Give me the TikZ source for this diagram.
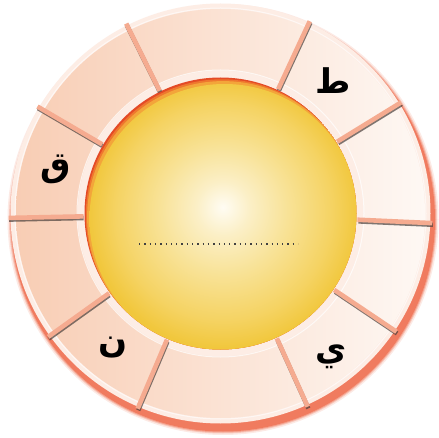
\documentclass[tikz,border=0pt]{standalone}
\usepackage{fontspec}
\newfontfamily\arabicfont[Script=Arabic]{DejaVu Sans}
\TeXXeTstate=1
\usetikzlibrary{calc}
\definecolor{peachL}{HTML}{F8CDB4}
\definecolor{peachR}{HTML}{FEF8F4}
\definecolor{bandc}{HTML}{FDEDE5}
\definecolor{sepc}{HTML}{F5AB90}
\definecolor{sepshadow}{HTML}{4A403C}
\definecolor{glowc}{HTML}{EE5530}
\definecolor{rimA}{HTML}{E44A26}
\definecolor{rimB}{HTML}{EE772E}
\definecolor{rimC}{HTML}{F3A53A}
\definecolor{sunA}{HTML}{FFFCF3}
\definecolor{sunB}{HTML}{FBEFC6}
\definecolor{sunC}{HTML}{F8E296}
\definecolor{sunD}{HTML}{F5D363}
\definecolor{sunE}{HTML}{F1C73C}
\pgfdeclareradialshading{sunshade}{\pgfpoint{-0.3bp}{2.2bp}}{color(0bp)=(sunA); color(5bp)=(sunB); color(12bp)=(sunC); color(20bp)=(sunD); color(25bp)=(sunE); color(50bp)=(sunE)}
\tikzset{
  sepline/.style={sepc, line width=4.6pt},
  sepshade/.style={sepshadow, line width=4.4pt, opacity=0.7},
  letter/.style={font=\arabicfont\bfseries\fontsize{34}{40}\selectfont, text=black, inner sep=0pt},
  dotline/.style={black!75, line width=1.3pt, dash pattern=on 1.3pt off 4pt}
}
\begin{document}
\begin{tikzpicture}[x=1pt,y=-1pt]
\useasboundingbox[fill=white] (0,0) rectangle (439,438);
\coordinate (C) at (220.5,213.5);
% glow / shadow
\foreach \r/\o in {215.5/0.12,214/0.22,213/0.32,212/0.5}{
  \fill[glowc, opacity=\o] ($(C)+(2.5,6)$) circle (\r);
}
% outer border
\fill[bandc] (C) circle (210);
% segments
\shade[left color=peachL, right color=peachR, even odd rule] (C) circle (204.5) (C) circle (143);
\draw[white, opacity=0.7, line width=1pt] (C) circle (143.5);
\draw[white, opacity=0.6, line width=1pt] (C) circle (205.5);
% sun
\begin{scope}
  \clip (C) circle (136);
  \fill[rimA] (C) circle (136);
  \fill[rimB] ($(C)+(1.3,1.8)$) circle (136);
  \fill[rimC] ($(C)+(2.6,3.6)$) circle (136);
  \shade[shading=sunshade] ($(C)+(4,5.5)$) circle (135);
\end{scope}
% separators
\foreach \a in {181.2,149.7,116.4,65.1,31.6,-2.6,-33.9,-65.7,-113,215.6}{
  \draw[sepshade] ($(C)+(-\a:137.5)+(0.6,1.7)$) -- ($(C)+(-\a:212)+(0.6,1.7)$);
}
\foreach \a in {181.2,149.7,116.4,65.1,31.6,-2.6,-33.9,-65.7,-113,215.6}{
  \draw[sepline] ($(C)+(-\a:137)$) -- ($(C)+(-\a:212)$);
}
% dotted line
\coordinate (d1) at (139,244);
\coordinate (d2) at (298,244);
\draw[dotline] (d1) -- (d2);
% letters
\node[letter] (ta) at (333,81) {\beginR ط\endR};
\node[letter] (qaf) at (56,169) {\beginR ق\endR};
\node[letter] (nun) at (113,348) {\beginR ن\endR};
\node[letter] (ya) at (331,357) {\beginR ي\endR};
\end{tikzpicture}
\end{document}
